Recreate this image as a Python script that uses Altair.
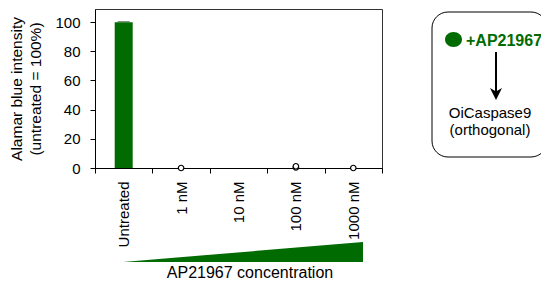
import altair as alt
import pandas as pd

categories = ["Untreated", "1 nM", "10 nM", "100 nM", "1000 nM"]
bar_means = [100, 0, 0, 0, 0]
bar_err = [0.3, 0, 0, 0, 0]
point_cats = ["1 nM", "100 nM", "100 nM", "1000 nM"]
point_vals = [0.0, 0.4, 1.2, 0.0]
y_ticks = [0, 20, 40, 60, 80, 100]

GREEN = "#006b00"
FONT = "Liberation Sans"

bars_df = pd.DataFrame({"cat": categories, "mean": bar_means,
                        "lo": [m - e for m, e in zip(bar_means, bar_err)],
                        "hi": [m + e for m, e in zip(bar_means, bar_err)]})
pts_df = pd.DataFrame({"cat": point_cats, "val": point_vals})
one = alt.Data(values=[{}])

xaxis = alt.Axis(title=None, labelAngle=270, labelFontSize=15, labelFont=FONT, labelColor="black",
                 tickBand="extent", tickSize=5, tickColor="black", domainColor="black",
                 labelPadding=8, labelOverlap=False, grid=False)
xscale = alt.Scale(domain=categories, paddingInner=0, paddingOuter=0)
yaxis = alt.Axis(title=["Alamar blue intensity", "(untreated = 100%)"], values=y_ticks,
                 titleFontSize=15.5, titleFontWeight="normal", titleFont=FONT, titleColor="black",
                 titleLineHeight=19, titlePadding=11, labelOverlap=False,
                 labelFontSize=15, labelFont=FONT, labelColor="black", labelPadding=10,
                 tickSize=5, tickColor="black", domainColor="black", grid=False)
yscale = alt.Scale(domain=[0, 109], nice=False)

bars = alt.Chart(bars_df).mark_bar(size=18, color=GREEN).encode(
    x=alt.X("cat:N", sort=categories, scale=xscale, axis=xaxis),
    y=alt.Y("mean:Q", scale=yscale, axis=yaxis),
)
err = alt.Chart(bars_df[bars_df["mean"] > 0]).mark_tick(size=12, thickness=1, color="#1f3f1f").encode(
    x=alt.X("cat:N", sort=categories, scale=xscale, axis=xaxis),
    y=alt.Y("hi:Q", scale=yscale, axis=yaxis))
pts = alt.Chart(pts_df).mark_point(shape="circle", size=30, filled=True, fill="white", stroke="black",
                                   strokeWidth=1.2, opacity=1).encode(
    x=alt.X("cat:N", sort=categories, scale=xscale, axis=xaxis),
    y=alt.Y("val:Q", scale=yscale, axis=yaxis))

wedge = alt.Chart(one).mark_point(shape="M -1 0.0833 L 1 -0.0833 L 1 0.0833 Z", size=57600, filled=True,
                                  color=GREEN, strokeWidth=0, opacity=1).encode(
    x=alt.value(148), y=alt.value(243))
xtitle = alt.Chart(one).mark_text(text="AP21967 concentration", font=FONT, fontSize=16, align="center",
                                  baseline="alphabetic", color="black").encode(
    x=alt.value(155), y=alt.value(268.5))

box = alt.Chart(one).mark_rect(fill="white", fillOpacity=0, stroke="black", strokeWidth=1, cornerRadius=16).encode(
    x=alt.value(337), x2=alt.value(452), y=alt.value(3), y2=alt.value(148))
ellipse = alt.Chart(one).mark_point(shape="M -1 0 A 1 0.88 0 1 1 1 0 A 1 0.88 0 1 1 -1 0 Z", size=289,
                                    filled=True, color=GREEN, strokeWidth=0, opacity=1).encode(
    x=alt.value(358.5), y=alt.value(30.5))
ligand = alt.Chart(one).mark_text(text="+AP21967", font=FONT, fontSize=16, fontWeight="bold", align="left",
                                  baseline="alphabetic", color=GREEN).encode(
    x=alt.value(371), y=alt.value(37))
shaft = alt.Chart(one).mark_rule(color="black", strokeWidth=2).encode(
    x=alt.value(401), y=alt.value(43), y2=alt.value(87))
head = alt.Chart(one).mark_point(shape="M -1 -1 L 0 1 L 1 -1 L 0 -0.4 Z", size=144, filled=True,
                                 color="black", strokeWidth=0, opacity=1).encode(
    x=alt.value(401), y=alt.value(85))
t1 = alt.Chart(one).mark_text(text="OiCaspase9", font=FONT, fontSize=15, align="center",
                              baseline="alphabetic", color="black").encode(x=alt.value(395), y=alt.value(109))
t2 = alt.Chart(one).mark_text(text="(orthogonal)", font=FONT, fontSize=15, align="center",
                              baseline="alphabetic", color="black").encode(x=alt.value(395), y=alt.value(126))

chart = alt.layer(bars, err, pts, wedge, xtitle, box, ellipse, ligand, shaft, head, t1, t2).properties(
    width=287, height=159,
    autosize=alt.AutoSizeParams(type="none"),
    padding={"left": 87, "top": 1, "right": 159, "bottom": 113},
    background="white",
).configure_view(stroke="#333", strokeWidth=1)

chart.save("out.html", embed_options={"renderer": "svg", "actions": False})
